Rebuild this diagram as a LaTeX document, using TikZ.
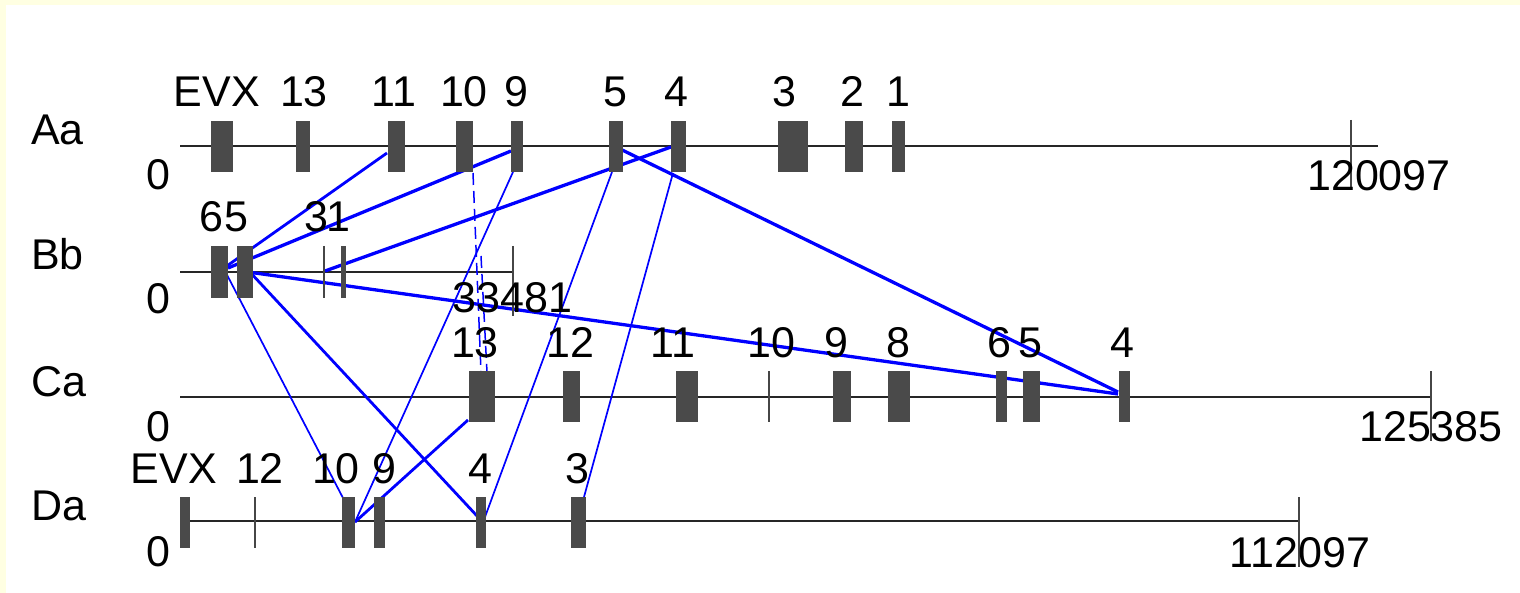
\documentclass[tikz,border=0pt]{standalone}
\usepackage{fontspec}
\setmainfont{Liberation Sans}
\definecolor{bgy}{RGB}{255,255,226}
\definecolor{exg}{RGB}{74,74,74}
\definecolor{lk}{RGB}{0,0,255}
\definecolor{tkg}{RGB}{70,70,70}
\newcommand\exn[5]{\node[exon,minimum width={(#3-#2)*1pt},minimum height={#5*1pt}] (#1) at ({(#2+#3)/2},#4) {};}
\begin{document}
\begin{tikzpicture}[x=1pt,y=-1pt,
  exon/.style={fill=exg,draw=none,inner sep=0,outer sep=0},
  base/.style={line width=2.2pt,black!85},
  tk/.style={line width=1.3pt,tkg},
  lab/.style={anchor=base,inner sep=0,outer sep=0,font=\fontsize{43}{43}\selectfont},
  nm/.style={anchor=base west,inner sep=0,outer sep=0,font=\fontsize{43}{43}\selectfont},
  lkthick/.style={lk,line width=3.3pt},
  lkmid/.style={lk,line width=2.8pt},
  lkthin/.style={lk,line width=1.7pt},
  lkdash/.style={lk,line width=1.5pt,dash pattern=on 12pt off 6pt}]
\useasboundingbox (0,0) rectangle (1520,593);
\fill[bgy] (0,0) rectangle (1520,593);
\fill[white] (6,5) rectangle (1520,593);

% track base lines
\coordinate (As) at (180,146); \coordinate (Ae) at (1378,146);
\coordinate (Bs) at (180,272); \coordinate (Be) at (513,272);
\coordinate (Cs) at (180,397); \coordinate (Ce) at (1431,397);
\coordinate (Ds) at (180,521); \coordinate (De) at (1299,521);
\draw[base] (As) -- (Ae);
\draw[base] (Bs) -- (Be);
\draw[base] (Cs) -- (Ce);
\draw[base] (Ds) -- (De);

% connector end points
\coordinate (p1a) at (224,268); \coordinate (p1b) at (387,153);
\coordinate (p2a) at (228,268); \coordinate (p2b) at (511,151);
\coordinate (p3a) at (325,271); \coordinate (p3b) at (671,147);
\coordinate (p4a) at (616,147); \coordinate (p4b) at (1118,392);
\coordinate (p5a) at (248,272); \coordinate (p5b) at (1118,394);
\coordinate (p6a) at (225,271); \coordinate (p6b) at (343,498);
\coordinate (p7a) at (248,270); \coordinate (p7b) at (478,517);
\coordinate (p8a) at (468,420); \coordinate (p8b) at (355,522);
\coordinate (p9a) at (513,172); \coordinate (p9b) at (355,522);
\coordinate (p10a) at (612,172); \coordinate (p10b) at (485,517);
\coordinate (p11a) at (673,173); \coordinate (p11b) at (584,497);
\coordinate (p12a) at (473,173); \coordinate (p12b) at (481,372);
\coordinate (p13a) at (481,256); \coordinate (p13b) at (487,372);

\draw[lkmid] (p1a) -- (p1b);
\draw[lkthick] (p2a) -- (p2b);
\draw[lkthick] (p3a) -- (p3b);
\draw[lkthick] (p4a) -- (p4b);
\draw[lkthick] (p5a) -- (p5b);
\draw[lkthin] (p6a) -- (p6b);
\draw[lkmid] (p7a) -- (p7b);
\draw[lkmid] (p8a) -- (p8b);
\draw[lkthin] (p9a) -- (p9b);
\draw[lkthin] (p10a) -- (p10b);
\draw[lkthin] (p11a) -- (p11b);
\draw[lkdash] (p12a) -- (p12b);
\draw[lkdash] (p13a) -- (p13b);

% Aa exons
\exn{aEVX}{211}{233}{146.5}{51}
\exn{a13}{296}{310}{146.5}{51}
\exn{a11}{388}{405}{146.5}{51}
\exn{a10}{456}{473}{146.5}{51}
\exn{a9}{511}{523}{146.5}{51}
\exn{a5}{609}{623}{146.5}{51}
\exn{a4}{671}{686}{146.5}{51}
\exn{a3}{778}{808}{146.5}{51}
\exn{a2}{845}{863}{146.5}{51}
\exn{a1}{892}{905}{146.5}{51}
\draw[tk] (1351,120) -- (1351,190);

% Bb exons
\exn{b6}{211}{228}{272}{52}
\exn{b5}{237}{253}{272}{52}
\draw[tk] (324,246) -- (324,298);
\exn{b1}{341}{346}{272}{52}
\draw[tk] (513,246) -- (513,316);

% Ca exons
\exn{c13}{469}{495}{396.5}{51}
\exn{c12}{563}{580}{396.5}{51}
\exn{c11}{676}{698}{396.5}{51}
\draw[tk] (769,371) -- (769,422);
\exn{c9}{833}{851}{396.5}{51}
\exn{c8}{888}{910}{396.5}{51}
\exn{c6}{996}{1007}{396.5}{51}
\exn{c5}{1023}{1040}{396.5}{51}
\exn{c4}{1119}{1130}{396.5}{51}
\draw[tk] (1431,371) -- (1431,441);

% Da exons
\exn{dEVX}{180}{190}{522.5}{51}
\draw[tk,line width=2pt] (255,497) -- (255,548);
\exn{d10}{342}{355}{522.5}{51}
\exn{d9}{374}{385}{522.5}{51}
\exn{d4}{476}{486}{522.5}{51}
\exn{d3}{571}{586}{522.5}{51}
\draw[tk] (1299,497) -- (1299,567);

% track names
\node[nm] (nA) at (31,145) {Aa};
\node[nm] (nB) at (31,270) {Bb};
\node[nm] (nC) at (31,396) {Ca};
\node[nm] (nD) at (31,520) {Da};

% start / end labels
\node[lab] (zA) at (158,190) {0};
\node[lab] (zB) at (158,314) {0};
\node[lab] (zC) at (158,441) {0};
\node[lab] (zD) at (158,566) {0};
\node[lab] (eA) at (1379,191) {120097};
\node[lab] (eB) at (512.5,313) {33481};
\node[lab] (eC) at (1431,441) {125385};
\node[lab] (eD) at (1300,567) {112097};

% exon labels Aa
\node[lab] (laEVX) at (217,107) {EVX};
\node[lab] (la13) at (304,107) {13};
\node[lab] (la11) at (394,107) {11};
\node[lab] (la10) at (464,107) {10};
\node[lab] (la9) at (516,107) {9};
\node[lab] (la5) at (615,107) {5};
\node[lab] (la4) at (676,107) {4};
\node[lab] (la3) at (784,107) {3};
\node[lab] (la2) at (852,107) {2};
\node[lab] (la1) at (898,107) {1};
% Bb
\node[lab] (lb6) at (211.5,232) {6};
\node[lab] (lb5) at (236.5,232) {5};
\node[lab] (lb3) at (316.5,232) {3};
\node[lab] (lb1) at (338,232) {1};
% Ca
\node[lab] (lc13) at (475,358) {13};
\node[lab] (lc12) at (570,358) {12};
\node[lab] (lc11) at (673,358) {11};
\node[lab] (lc10) at (771,358) {10};
\node[lab] (lc9) at (836,358) {9};
\node[lab] (lc8) at (898,358) {8};
\node[lab] (lc6) at (999,358) {6};
\node[lab] (lc5) at (1030,358) {5};
\node[lab] (lc4) at (1122,358) {4};
% Da
\node[lab] (ldEVX) at (174,483) {EVX};
\node[lab] (ld12) at (260,483) {12};
\node[lab] (ld10) at (336,483) {10};
\node[lab] (ld9) at (384,483) {9};
\node[lab] (ld4) at (480,483) {4};
\node[lab] (ld3) at (577,483) {3};
\end{tikzpicture}
\end{document}
